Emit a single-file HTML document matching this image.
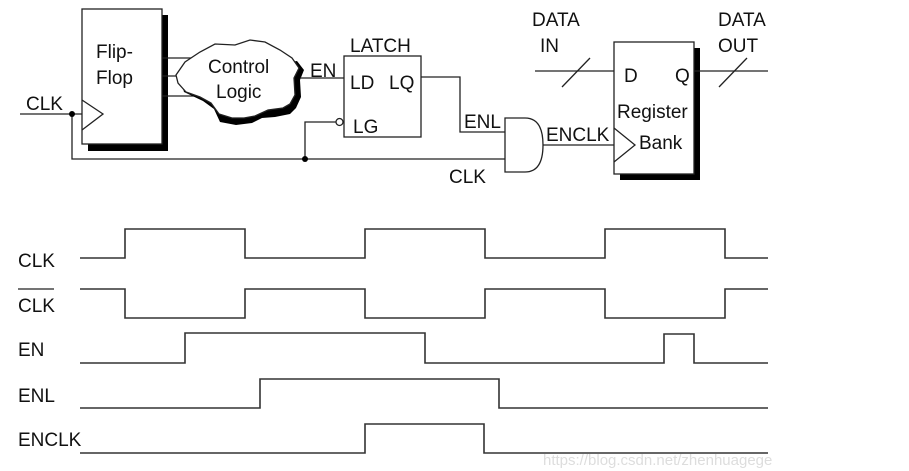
<!DOCTYPE html>
<html><head><style>
html,body{margin:0;padding:0;background:#fff;}
svg{display:block}
text{font-family:"Liberation Sans",Arial,sans-serif;fill:#111;}
</style></head><body>
<svg width="909" height="471" viewBox="0 0 909 471" xmlns="http://www.w3.org/2000/svg">
<g stroke="#222" stroke-width="1.3" fill="none">
<rect x="88" y="15" width="80" height="136" fill="#000" stroke="none"/>
<rect x="82" y="9" width="80" height="135" fill="#fff"/>
<polyline points="82,100 103,114 82,130"/>
<line x1="20" y1="114" x2="82" y2="114"/>
<polyline points="72,114 72,159 505,159"/>
<polyline points="305,159 305,122 336,122"/>
<circle cx="339.5" cy="122" r="3.5" fill="#fff"/>
<line x1="162" y1="58" x2="200" y2="58"/>
<line x1="162" y1="76" x2="182" y2="76"/>
<line x1="162" y1="96" x2="205" y2="96"/>
<path d="M180,79 L184,92 L203,101 L214,109 L220,122 L236,125 L252,123 L262,118 L275,117 L290,114 L296,108 L301,97 L300,80 L304,70 L297,61 Z" fill="#000" stroke="none"/>
<path d="M176,75 L185,62 L200,52 L215,44 L235,45 L250,40 L265,42 L280,50 L292,58 L299,68 L294,78 L295,95 L290,104 L283,108 L268,110 L255,116 L244,118 L232,118 L219,114 L211,103 L200,97 L186,92 L178,83 Z" fill="#fff"/>
<line x1="300" y1="78" x2="344" y2="78"/>
<rect x="344" y="56" width="77" height="81" fill="#fff"/>
<polyline points="421,77 460,77 460,132 505,132"/>
<path d="M505,118 L525,118 Q543,118 543,145 Q543,172 525,172 L505,172 Z" fill="#fff"/>
<line x1="543" y1="145" x2="614" y2="145"/>
<rect x="620" y="48" width="80" height="132" fill="#000" stroke="none"/>
<rect x="614" y="42" width="80" height="132" fill="#fff"/>
<polyline points="614,128 635,145 614,162"/>
<line x1="535" y1="71" x2="614" y2="71"/>
<line x1="562" y1="87" x2="590" y2="58"/>
<line x1="694" y1="71" x2="768" y2="71"/>
<line x1="719" y1="87" x2="747" y2="58"/>
</g>
<circle cx="72" cy="114" r="3" fill="#000"/>
<circle cx="305" cy="159" r="3" fill="#000"/>
<g font-size="19">
<text x="26" y="110">CLK</text>
<text x="96" y="58">Flip-</text>
<text x="96" y="84">Flop</text>
<text x="208" y="73">Control</text>
<text x="216" y="98">Logic</text>
<text x="310" y="77">EN</text>
<text x="350" y="52">LATCH</text>
<text x="350" y="89">LD</text>
<text x="389" y="89">LQ</text>
<text x="353" y="133">LG</text>
<text x="464" y="128">ENL</text>
<text x="449" y="183">CLK</text>
<text x="546" y="141">ENCLK</text>
<text x="532" y="26">DATA</text>
<text x="540" y="52">IN</text>
<text x="718" y="26">DATA</text>
<text x="718" y="52">OUT</text>
<text x="624" y="82">D</text>
<text x="675" y="82">Q</text>
<text x="617" y="118">Register</text>
<text x="639" y="149">Bank</text>
<text x="18" y="267">CLK</text>
<text x="18" y="312">CLK</text>
<text x="18" y="356">EN</text>
<text x="18" y="402">ENL</text>
<text x="18" y="446">ENCLK</text>
</g>
<line x1="18" y1="289" x2="54" y2="289" stroke="#222" stroke-width="1.3"/>
<g stroke="#333" stroke-width="1.6" fill="none">
<polyline points="80,258 125,258 125,229 245,229 245,258 365,258 365,229 485,229 485,258 605,258 605,229 725,229 725,258 768,258"/>
<polyline points="80,289 125,289 125,318 245,318 245,289 365,289 365,318 485,318 485,289 605,289 605,318 725,318 725,289 768,289"/>
<polyline points="80,363 185,363 185,333 425,333 425,363 664,363 664,334 694,334 694,363 768,363"/>
<polyline points="80,408 260,408 260,379 499,379 499,408 768,408"/>
<polyline points="80,453 365,453 365,424 484,424 484,453 768,453"/>
</g>
<text x="543" y="465" font-size="15" style="fill:#ddd">https://blog.csdn.net/zhenhuagege</text>
</svg>
</body></html>
